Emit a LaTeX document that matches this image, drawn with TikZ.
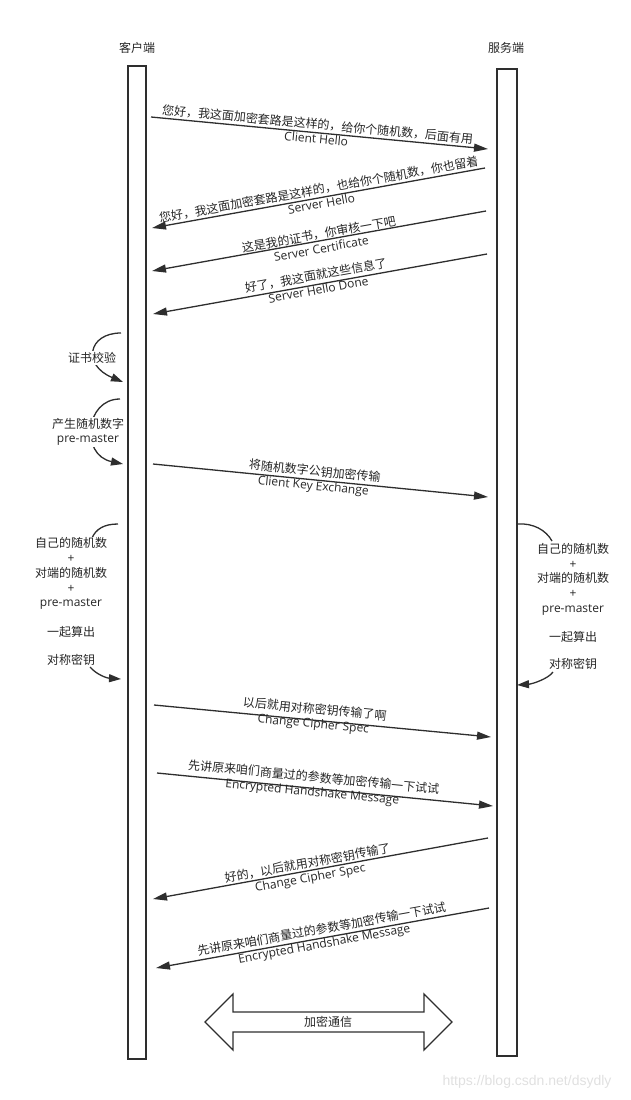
\documentclass[tikz,border=0pt]{standalone}
\usepackage{fontspec}
\setmainfont{Open Sans}
\newfontfamily\cjk{Noto Sans CJK SC}
\newfontfamily\wmfont{Liberation Sans}
\usetikzlibrary{arrows.meta}
\definecolor{linec}{HTML}{2E2E2E}
\definecolor{txtc}{HTML}{262626}
\tikzset{
  lifebox/.style={draw=linec, line width=1.5pt},
  msg/.style={draw=linec, line width=1.3pt, -{Triangle[length=14pt,width=8pt]}},
  curvearrow/.style={draw=linec, line width=1.3pt, -{Triangle[length=12pt,width=8pt]}},
  curvepart/.style={draw=linec, line width=1.3pt},
  lbl/.style={font=\fontsize{12}{14.5}\selectfont, align=center, inner sep=0pt, text=txtc},
  note/.style={font=\fontsize{12}{14.7}\selectfont, align=center, inner sep=1pt, text=txtc, fill=white},
}
\begin{document}
\begin{tikzpicture}[x=1pt,y=-1pt]
\useasboundingbox (0,0) rectangle (631,1100);
% lifelines
\node[lbl] (clientlbl) at (137,48) {\cjk 客户端};
\node[lbl] (serverlbl) at (506,48) {\cjk 服务端};
\draw[lifebox] (128,66) rectangle (146,1059);
\draw[lifebox] (497,69) rectangle (517,1056);

% message end points
\coordinate (m1s) at (151,117); \coordinate (m1e) at (488,149);
\coordinate (m2s) at (485,168); \coordinate (m2e) at (152,228);
\coordinate (m3s) at (486,211); \coordinate (m3e) at (152,271);
\coordinate (m4s) at (487,254); \coordinate (m4e) at (153,314);
\coordinate (m5s) at (153,464); \coordinate (m5e) at (488,497);
\coordinate (m6s) at (154,705); \coordinate (m6e) at (491,737);
\coordinate (m7s) at (157,773); \coordinate (m7e) at (493,806);
\coordinate (m8s) at (488,838); \coordinate (m8e) at (153,899);
\coordinate (m9s) at (489,908); \coordinate (m9e) at (156,968);

\draw[msg] (m1s) -- (m1e);
\draw[msg] (m2s) -- (m2e);
\draw[msg] (m3s) -- (m3e);
\draw[msg] (m4s) -- (m4e);
\draw[msg] (m5s) -- (m5e);
\draw[msg] (m6s) -- (m6e);
\draw[msg] (m7s) -- (m7e);
\draw[msg] (m8s) -- (m8e);
\draw[msg] (m9s) -- (m9e);

\node[lbl, rotate=-5.4] (l1) at (317,131) {{\cjk 您好，我这面加密套路是这样的，给你个随机数，后面有用}\\Client Hello};
\node[lbl, rotate=10.2] (l2) at (320,196) {{\cjk 您好，我这面加密套路是这样的，也给你个随机数，你也留着}\\Server Hello};
\node[lbl, rotate=10.2] (l3) at (320,241) {{\cjk 这是我的证书，你审核一下吧}\\Server Certificate};
\node[lbl, rotate=10.2] (l4) at (317,282) {{\cjk 好了，我这面就这些信息了}\\Server Hello Done};
\node[lbl, rotate=-5.6] (l5) at (314,479) {{\cjk 将随机数字公钥加密传输}\\Client Key Exchange};
\node[lbl, rotate=-5.4] (l6) at (314,717) {{\cjk 以后就用对称密钥传输了啊}\\Change Cipher Spec};
\node[lbl, rotate=-5.6] (l7) at (313,785) {{\cjk 先讲原来咱们商量过的参数等加密传输一下试试}\\Encrypted Handshake Message};
\node[lbl, rotate=10.3] (l8) at (309,871) {{\cjk 好的，以后就用对称密钥传输了}\\Change Cipher Spec};
\node[lbl, rotate=10.2] (l9) at (323,937) {{\cjk 先讲原来咱们商量过的参数等加密传输一下试试}\\Encrypted Handshake Message};

% client self steps
\coordinate (c1s) at (121,333); \coordinate (c1e) at (123,382);
\draw[curvearrow] (c1s) .. controls (88,333) and (82,365) .. (c1e);
\node[note] (n1) at (92,358) {\cjk 证书校验};
\coordinate (c2s) at (120,399); \coordinate (c2e) at (123,464);
\draw[curvearrow] (c2s) .. controls (85,399) and (80,455) .. (c2e);
\node[note] (n2) at (88,432) {{\cjk 产生随机数字}\\pre-master};

% key computation, client
\coordinate (k1s) at (118,524); \coordinate (k1e) at (92,538);
\draw[curvepart] (k1s) .. controls (104,524) and (96,529) .. (k1e);
\node[note] (n3) at (71,601.5) {{\cjk 自己的随机数}\\+\\{\cjk 对端的随机数}\\+\\pre-master\\[15pt]{\cjk 一起算出}\\[13pt]{\cjk 对称密钥}};
\coordinate (k2s) at (90,667); \coordinate (k2e) at (121,679);
\draw[curvearrow] (k2s) .. controls (96,674) and (106,678) .. (k2e);

% key computation, server
\coordinate (k3s) at (518,524); \coordinate (k3e) at (552,541);
\draw[curvepart] (k3s) .. controls (533,523) and (546,530) .. (k3e);
\node[note] (n4) at (573,606.5) {{\cjk 自己的随机数}\\+\\{\cjk 对端的随机数}\\+\\pre-master\\[15pt]{\cjk 一起算出}\\[12pt]{\cjk 对称密钥}};
\coordinate (k4s) at (553,672); \coordinate (k4e) at (517,685);
\draw[curvearrow] (k4s) .. controls (548,679) and (532,684) .. (k4e);

% encrypted communication double arrow
\draw[draw=linec, line width=1.3pt, line join=miter]
  (205,1022) -- (233,994) -- (233,1012) -- (424,1012) -- (424,994) -- (452,1022)
  -- (424,1050) -- (424,1032) -- (233,1032) -- (233,1050) -- cycle;
\node[lbl] (enc) at (328,1022) {\cjk 加密通信};

% watermark
\node[font=\wmfont\fontsize{14}{16}\selectfont, text=black!12, inner sep=0pt] (wm) at (527,1082) {https://blog.csdn.net/dsydly};
\end{tikzpicture}
\end{document}
